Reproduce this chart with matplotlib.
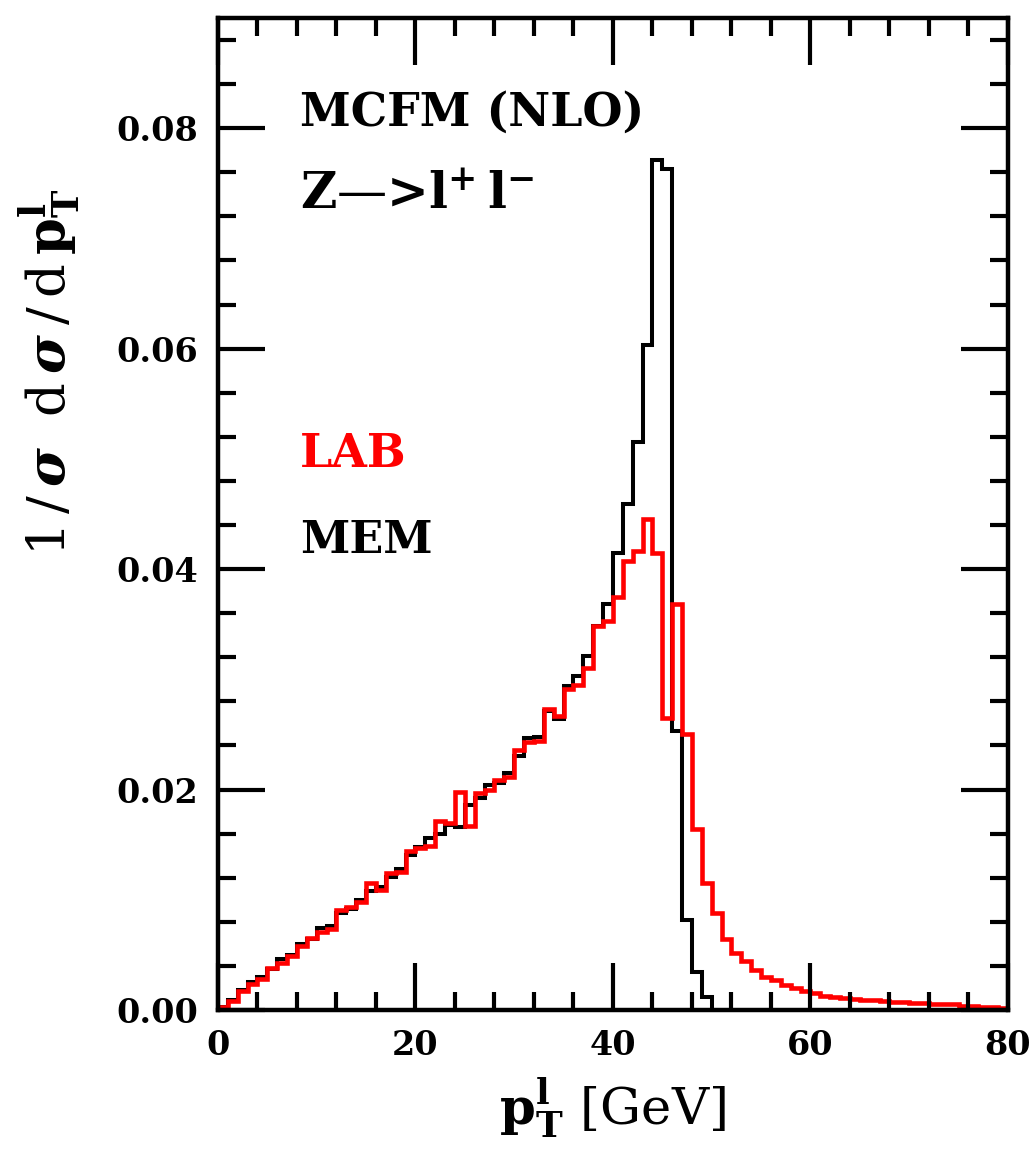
import numpy as np
import matplotlib
matplotlib.use("Agg")
import matplotlib.pyplot as plt
from matplotlib.ticker import MultipleLocator, FormatStrFormatter

plt.rcParams['font.family'] = 'DejaVu Serif'
plt.rcParams['font.weight'] = 'bold'
plt.rcParams['mathtext.fontset'] = 'dejavuserif'

# 1 GeV bins, pT of the lepton
lab_edges = np.arange(0, 81)
lab_vals = [0.0003, 0.0008, 0.0017, 0.0024, 0.0028, 0.0038, 0.0043, 0.0049, 0.0058, 0.0065,
            0.0071, 0.0073, 0.0091, 0.0093, 0.0098, 0.0115, 0.0109, 0.0124, 0.0125, 0.0144,
            0.0147, 0.0149, 0.0171, 0.0170, 0.0198, 0.0167, 0.0197, 0.0200, 0.0209, 0.0211,
            0.0236, 0.0243, 0.0244, 0.0273, 0.0267, 0.0291, 0.0295, 0.0310, 0.0348, 0.0353,
            0.0375, 0.0407, 0.0416, 0.0445, 0.0415, 0.0265, 0.0368, 0.0250, 0.0164, 0.0115,
            0.0088, 0.0064, 0.0052, 0.0044, 0.0036, 0.0030, 0.0027, 0.0023, 0.0020, 0.0017,
            0.0015, 0.0013, 0.0012, 0.0011, 0.0010, 0.0009, 0.0009, 0.0008, 0.0007, 0.0007,
            0.0006, 0.0006, 0.0005, 0.0005, 0.0005, 0.0004, 0.0004, 0.0003, 0.0003, 0.0002]

mem_edges = np.arange(0, 51)
mem_vals = [0.0003, 0.0009, 0.0018, 0.0025, 0.0030, 0.0037, 0.0046, 0.0050, 0.0060, 0.0064,
            0.0074, 0.0076, 0.0088, 0.0092, 0.0100, 0.0108, 0.0112, 0.0121, 0.0128, 0.0141,
            0.0148, 0.0156, 0.0160, 0.0168, 0.0166, 0.0186, 0.0192, 0.0204, 0.0206, 0.0215,
            0.0230, 0.0247, 0.0248, 0.0271, 0.0264, 0.0294, 0.0303, 0.0321, 0.0348, 0.0368,
            0.0415, 0.0459, 0.0515, 0.0603, 0.0771, 0.0763, 0.0253, 0.0082, 0.0034, 0.0012]

fig = plt.figure(figsize=(10.32, 11.52), dpi=100)
ax = fig.add_axes([0.2112, 0.1233, 0.7655, 0.8611])

ax.stairs(mem_vals, mem_edges, color='black', lw=2.9, baseline=0)
ax.stairs(lab_vals, lab_edges, color='red', lw=3.3, baseline=0)

ax.set_xlim(0, 80)
ax.set_ylim(0, 0.09)

ax.xaxis.set_major_locator(MultipleLocator(20))
ax.xaxis.set_minor_locator(MultipleLocator(4))
ax.yaxis.set_major_locator(MultipleLocator(0.02))
ax.yaxis.set_minor_locator(MultipleLocator(0.004))
ax.yaxis.set_major_formatter(FormatStrFormatter('%.2f'))

ax.tick_params(which='both', direction='in', top=True, right=True, width=3)
ax.tick_params(which='major', length=34, labelsize=24, pad=14)
ax.tick_params(which='minor', length=13)
for s in ax.spines.values():
    s.set_linewidth(3.2)
for lab in ax.get_xticklabels() + ax.get_yticklabels():
    lab.set_fontweight('bold')

ax.set_xlabel(r'$\mathbf{p}_{\mathbf{T}}^{\mathbf{l}}$ [GeV]', fontsize=37, labelpad=10)
ylab = (r'1$\,$/$\,\sigma\;\;$d$\,\sigma\,$/$\,$d$\,$'
        r'$\mathbf{p}_{\mathbf{T}}^{\mathbf{l}}$')
ax.set_ylabel(ylab, fontsize=38)
ax.yaxis.set_label_coords(-0.172, 0.643)

ax.text(8.3, 0.0802, 'MCFM (NLO)', fontsize=33, fontweight='bold', va='baseline', ha='left')
ax.text(8.3, 0.0727, 'Z\u2014>l$^{\\mathbf{+}}\\,$l$^{\\mathbf{-}}$', fontsize=36,
        fontweight='bold', va='baseline', ha='left')
ax.text(8.3, 0.0493, 'LAB', fontsize=33, fontweight='bold', va='baseline', ha='left', color='red')
ax.text(8.3, 0.0415, 'MEM', fontsize=32, fontweight='bold', va='baseline', ha='left')

fig.savefig('out.png', dpi=100)
